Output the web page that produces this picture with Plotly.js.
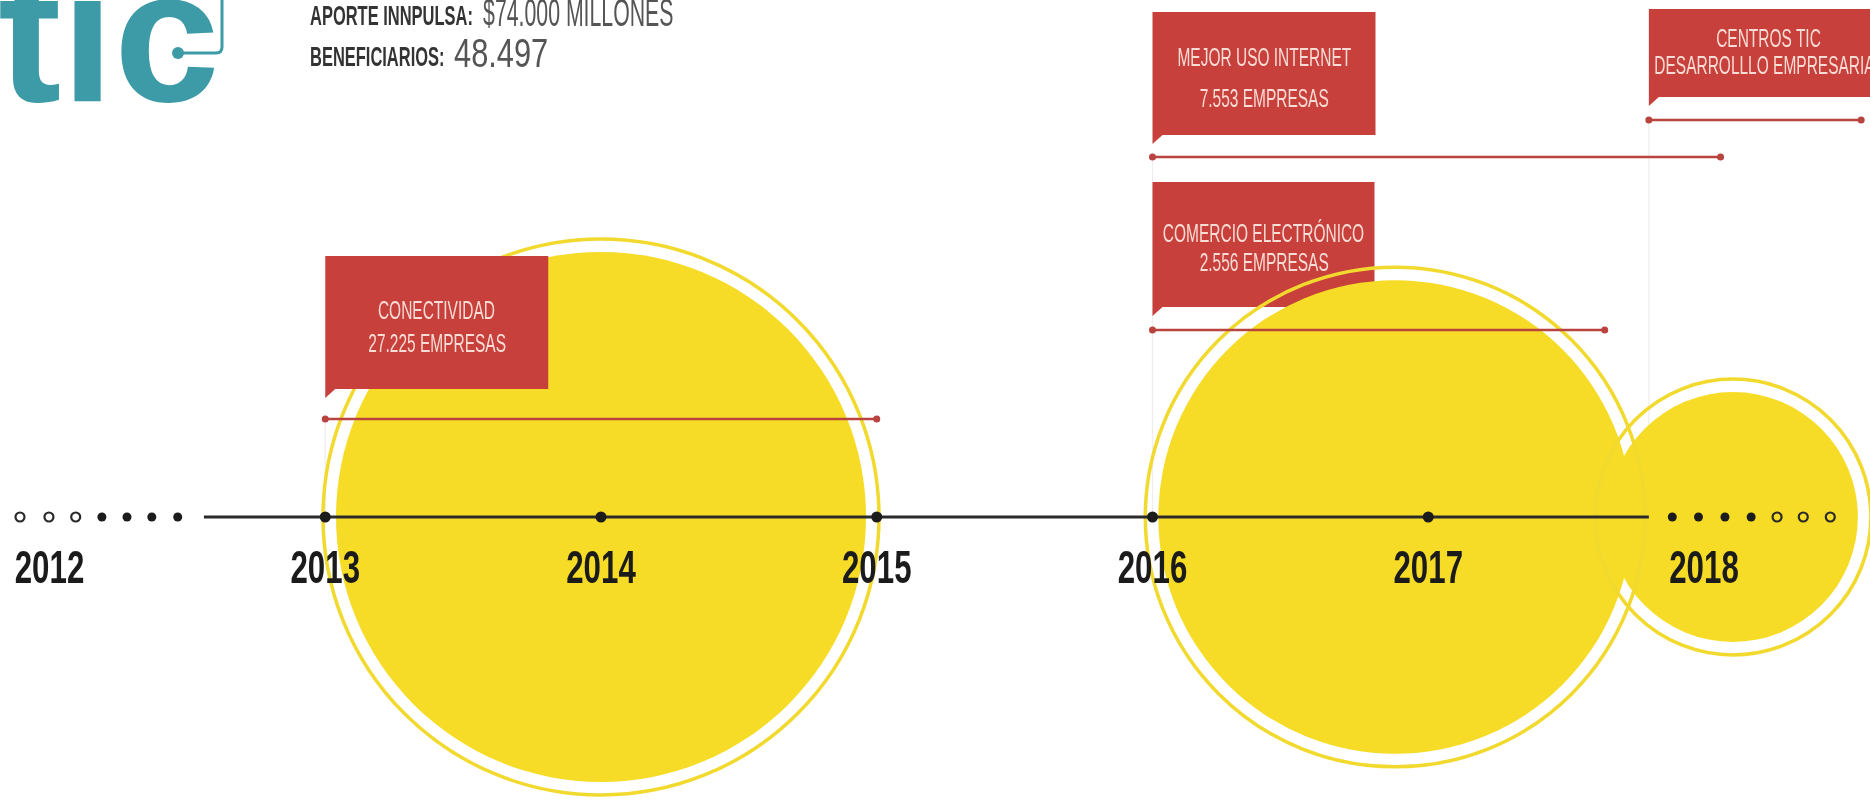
<!DOCTYPE html>
<html><head><meta charset="utf-8">
<script src="https://cdn.plot.ly/plotly-3.0.1.min.js"></script>
<style>html,body{margin:0;padding:0;background:#fff;overflow:hidden}#chart{width:1870px;height:801px}</style>
</head><body><div id="chart"></div>
<script>
// ---------- data ----------
const yearTicks = [2012, 2013, 2014, 2015, 2016, 2017, 2018];
const yearLabels = ['2012', '2013', '2014', '2015', '2016', '2017', '2018'];
const milestoneYears = [2013, 2014, 2015, 2016, 2017];
const timelineSpan = [2012.56, 2017.80];
const leadOpenDots = [2011.893, 2011.998, 2012.095];
const leadFilledDots = [2012.19, 2012.281, 2012.371, 2012.465];
const trailFilledDots = [2017.885, 2017.98, 2018.076, 2018.171];
const trailOpenDots = [2018.265, 2018.36, 2018.458];
const programNames = ['CONECTIVIDAD', 'MEJOR USO INTERNET', 'COMERCIO ELECTRÓNICO', 'CENTROS TIC'];
const programSub = ['27.225 EMPRESAS', '7.553 EMPRESAS', '2.556 EMPRESAS', 'DESARROLLLO EMPRESARIAL'];
const programStart = [2013, 2016, 2016, 2017.80];
const programEnd = [2015, 2018.06, 2017.64, 2018.57];
const bubbleCenter = [2014.0, 2016.88, 2018.105];
const bubbleRadius = [0.961, 0.859, 0.453];
const headerLabels = ['APORTE INNPULSA:', 'BENEFICIARIOS:'];
const headerValues = ['$74.000 MILLONES', '48.497'];
const logoText = 'tic';

// ---------- layout geometry (pixels) ----------
const W = 1870, H = 801;
const X_2012 = 49.5, PX_PER_YEAR = 275.75, AXIS_Y = 517;
const xRange = [2012 - X_2012 / PX_PER_YEAR, 2012 + (W - X_2012) / PX_PER_YEAR];
const yRange = [-(H - AXIS_Y) / PX_PER_YEAR, AXIS_Y / PX_PER_YEAR];
const yPx = py => (AXIS_Y - py) / PX_PER_YEAR;
const dPx = d => d / PX_PER_YEAR;
const px = v => v / W;
const py = v => 1 - v / H;
const callout = [
  {line: 419, top: 256, bottom: 389, width: 223, l1: 310, l2: 343, over: true},
  {line: 157, top: 12, bottom: 135, width: 223, l1: 57, l2: 98, over: true},
  {line: 330, top: 182, bottom: 307, width: 222, l1: 233, l2: 262, over: false},
  {line: 120, top: 9, bottom: 97, width: 240, l1: 38, l2: 65, over: true}
];
const RING_GAP = 13;
const LABEL_Y = 572;

const SANS = '"Liberation Sans", Arial, sans-serif';
const RED = '#c8403b', SPAN = '#b8433f', YEL = '#f6dc26', RING = '#f2d92e', TEAL = '#3c9ba6', INK = '#1c1c1c';
// horizontal condensing of text styles (the original uses a condensed display face)
const YEAR_SX = 0.68, BOX_SX = 0.62;

// ---------- shapes ----------
const shapes = [];
programStart.forEach((s, i) => {
  shapes.push({type: 'line', layer: 'below', xref: 'x', yref: 'y', x0: s, x1: s,
    y0: yPx(callout[i].line), y1: 0, line: {color: '#eeeeee', width: 1.2}});
});
function boxShape(i) {
  const c = callout[i], x0 = programStart[i], x1 = x0 + dPx(c.width);
  const yt = yPx(c.top), yb = yPx(c.bottom), ytl = yPx(c.bottom + 9);
  return {type: 'path', layer: 'below', xref: 'x', yref: 'y',
    path: `M${x0},${yt} L${x1},${yt} L${x1},${yb} L${x0 + dPx(10)},${yb} L${x0},${ytl} Z`,
    fillcolor: RED, line: {width: 0}};
}
const multiplyIdx = [];
programStart.forEach((s, i) => { if (!callout[i].over) shapes.push(boxShape(i)); });
bubbleCenter.forEach((cx, i) => {
  const r = bubbleRadius[i];
  multiplyIdx.push(shapes.length);
  shapes.push({type: 'circle', layer: 'below', xref: 'x', yref: 'y',
    x0: cx - r, x1: cx + r, y0: -r, y1: r, fillcolor: YEL, line: {width: 0}});
});
bubbleCenter.forEach((cx, i) => {
  const r = bubbleRadius[i] + dPx(RING_GAP);
  shapes.push({type: 'circle', layer: 'below', xref: 'x', yref: 'y',
    x0: cx - r, x1: cx + r, y0: -r, y1: r, fillcolor: 'rgba(0,0,0,0)', line: {color: RING, width: 3.5}});
});
programStart.forEach((s, i) => { if (callout[i].over) shapes.push(boxShape(i)); });
// logo decoration (dot in the "c" and frame line)
shapes.push({type: 'circle', xref: 'paper', yref: 'paper', x0: px(172), x1: px(184), y0: py(59), y1: py(47),
  fillcolor: TEAL, line: {width: 0}});
shapes.push({type: 'path', xref: 'paper', yref: 'paper',
  path: `M${px(180)},${py(53)} L${px(216)},${py(53)} Q${px(222)},${py(53)} ${px(222)},${py(47)} L${px(222)},${py(-5)}`,
  line: {color: TEAL, width: 3}});

// ---------- traces ----------
const zeros = a => a.map(() => 0);
const traces = [];
traces.push({x: timelineSpan, y: zeros(timelineSpan), mode: 'lines', line: {color: '#2a2a2a', width: 3}, hoverinfo: 'skip'});
traces.push({x: milestoneYears, y: zeros(milestoneYears), mode: 'markers', marker: {size: 11, color: INK}, hoverinfo: 'skip'});
const filled = leadFilledDots.concat(trailFilledDots);
const open = leadOpenDots.concat(trailOpenDots);
traces.push({x: filled, y: zeros(filled), mode: 'markers', marker: {size: 9, color: INK}, hoverinfo: 'skip'});
traces.push({x: open, y: zeros(open), mode: 'markers', marker: {symbol: 'circle-open', size: 9, color: '#2a2a2a', line: {width: 2.2}}, hoverinfo: 'skip'});
programStart.forEach((s, i) => {
  const lv = yPx(callout[i].line);
  traces.push({x: [s, programEnd[i]], y: [lv, lv], mode: 'lines+markers',
    line: {color: SPAN, width: 2.5}, marker: {size: 7, color: SPAN}, hoverinfo: 'skip'});
});
traces.push({x: yearTicks, y: yearTicks.map(() => yPx(LABEL_Y)), mode: 'text', text: yearLabels,
  textposition: 'middle center', textfont: {family: SANS, size: 46, color: '#1b1b1b', weight: 700}, hoverinfo: 'skip'});

// ---------- annotations ----------
const annotations = [];
const annScale = [];
programStart.forEach((s, i) => {
  const c = callout[i], xc = s + dPx(c.width) / 2;
  [[programNames[i], c.l1], [programSub[i], c.l2]].forEach(([t, y]) => {
    annotations.push({x: xc, y: yPx(y), xref: 'x', yref: 'y', text: t, showarrow: false,
      xanchor: 'center', yanchor: 'middle', font: {family: SANS, size: 25, color: '#f8dcd5'}});
    annScale.push([BOX_SX, '50% 50%']);
  });
});
const headerRows = [16, 57];
const valueRows = [13, 53];
const headerValueX = [481, 452];
const headerValueSize = [38, 40];
const headerValueSx = [0.56, 0.77];
headerLabels.forEach((t, i) => {
  annotations.push({x: px(308), y: py(headerRows[i]), xref: 'paper', yref: 'paper', text: '<b>' + t + '</b>',
    showarrow: false, xanchor: 'left', yanchor: 'middle', font: {family: SANS, size: 27, color: '#333333'}});
  annScale.push([0.61, '0% 50%']);
  annotations.push({x: px(headerValueX[i]), y: py(valueRows[i]), xref: 'paper', yref: 'paper', text: headerValues[i],
    showarrow: false, xanchor: 'left', yanchor: 'middle', font: {family: SANS, size: headerValueSize[i], color: '#555555'}});
  annScale.push([headerValueSx[i], '0% 50%']);
});
annotations.push({x: px(-4), y: py(143), xref: 'paper', yref: 'paper', text: '<b>' + logoText + '</b>', showarrow: false,
  xanchor: 'left', yanchor: 'bottom', font: {family: SANS, size: 190, color: TEAL}});
annScale.push([1, '0% 50%']);

const layout = {
  width: W, height: H, margin: {l: 0, r: 0, t: 0, b: 0, pad: 0},
  paper_bgcolor: '#ffffff', plot_bgcolor: '#ffffff', showlegend: false,
  xaxis: {range: xRange, visible: false, fixedrange: true},
  yaxis: {range: yRange, visible: false, fixedrange: true},
  shapes: shapes, annotations: annotations
};
function condense(el, sx, origin) {
  el.style.transformBox = 'fill-box';
  el.style.transformOrigin = origin;
  el.style.transform = 'scaleX(' + sx + ')';
}
Plotly.newPlot('chart', traces, layout, {displayModeBar: false, staticPlot: true}).then(() => {
  document.querySelectorAll('.shapelayer path').forEach(p => {
    const idx = +p.getAttribute('data-index');
    if (multiplyIdx.includes(idx)) p.style.mixBlendMode = 'multiply';
  });
  document.querySelectorAll('.textpoint text').forEach(t => condense(t, YEAR_SX, '50% 50%'));
  document.querySelectorAll('g.annotation').forEach(g => {
    const i = +g.getAttribute('data-index');
    const t = g.querySelector('text.annotation-text');
    if (t && annScale[i] && annScale[i][0] !== 1) condense(t, annScale[i][0], annScale[i][1]);
  });
});
</script></body></html>
